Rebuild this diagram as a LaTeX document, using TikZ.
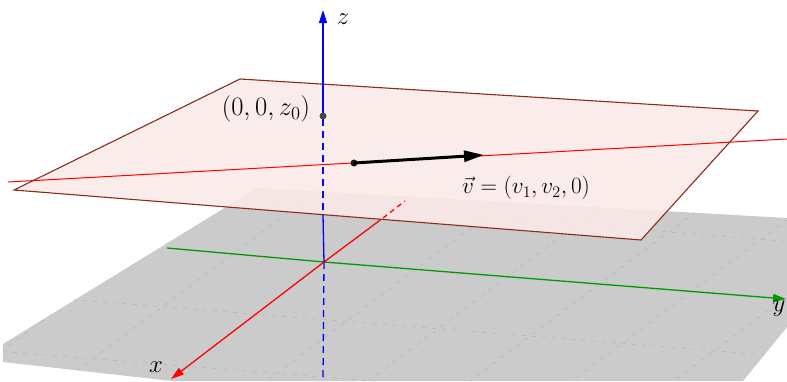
\documentclass[tikz,border=0pt]{standalone}
\usepackage{graphicx}
\usetikzlibrary{arrows.meta,calc}
\definecolor{planepink}{RGB}{250,234,232}
\definecolor{planeedge}{RGB}{135,45,25}
\definecolor{floorgray}{RGB}{203,203,203}
\begin{document}
\begin{tikzpicture}[x=1pt,y=-1pt,
  axis/.style={line width=1.3pt},
  dashaxis/.style={line width=1.3pt,dash pattern=on 7pt off 5pt},
  tip/.style={-{Triangle[length=13pt,width=8pt]}},
  grid/.style={gray!60,line width=0.5pt,dash pattern=on 4pt off 6pt},
  lbl/.style={font=\huge,inner sep=1pt}]
\fill[white] (0,0) rectangle (787,381);
\useasboundingbox (0,0) rectangle (787,381);
% floor plane
\coordinate (o) at (324,262);
\fill[floorgray] (257,188) -- (787,218) -- (787,327) -- (743,381) -- (172,381) -- (3,362) -- (3,344) -- cycle;
\begin{scope}
\clip (257,188) -- (787,218) -- (787,327) -- (743,381) -- (172,381) -- (3,362) -- (3,344) -- cycle;
\foreach \s in {-3,-2,-1,1,2,3,4,5,6} {
  \draw[grid] ($(o)+(\s*92,\s*7.3)+(160,-120)$) -- ($(o)+(\s*92,\s*7.3)+(-260,195)$);
}
\foreach \s in {-2,-1,1,2,3} {
  \draw[grid] ($(o)+(\s*-70,\s*52)+(-400,-32)$) -- ($(o)+(\s*-70,\s*52)+(600,48)$);
}
\end{scope}
% lower axes
\draw[blue,dashaxis] (o) -- (323,381);
\draw[green!60!black,axis,tip] (167,248) -- (o) -- (786,299) coordinate (ytip);
\node[lbl,anchor=north] (ylab) at (779,300) {\scalebox{1.2}{$y$}};
\draw[red,axis,tip] (383,218) -- (o) -- (171,379) coordinate (xtip);
\node[lbl] (xlab) at (156,367) {\scalebox{1.2}{$x$}};
% pink plane
\coordinate (p1) at (240,79);
\coordinate (p2) at (758,111);
\coordinate (p3) at (641,240);
\coordinate (p4) at (14,190);
\fill[planepink,opacity=0.9] (p1) -- (p2) -- (p3) -- (p4) -- cycle;
\draw[planeedge,line width=1.1pt,line join=miter] (p1) -- (p2) -- (p3) -- (p4) -- cycle;
% hidden parts of axes
\draw[red,axis,dash pattern=on 5pt off 4pt] (383,218) -- (405,201);
\draw[blue,axis] (323,215) -- (o);
\draw[blue,dashaxis] (323,119) -- (323,215);
% z axis
\draw[blue,axis,tip] (323,116) -- (323,10) coordinate (ztip);
\node[lbl] (zlab) at (343,19) {\scalebox{1.2}{$z$}};
% red line in plane
\draw[red,line width=1pt] (8,182) -- (787,139);
% vector
\node[circle,fill=black!90,inner sep=0pt,minimum size=7pt] (v0) at (354,163) {};
\coordinate (v1) at (484,155);
\draw[line width=3pt,-{Triangle[length=20pt,width=11pt]}] (v0.center) -- (v1);
\node[lbl] (vlab) at (526,188) {\scalebox{1.12}{$\vec{v}=(v_1,v_2,0)$}};
% point on z axis
\node[circle,fill=black!72,inner sep=0pt,minimum size=7pt] (pz) at (323,116) {};
\node[lbl] (pzlab) at (266,109) {\scalebox{1.28}{$(0,0,z_0)$}};
\end{tikzpicture}
\end{document}
